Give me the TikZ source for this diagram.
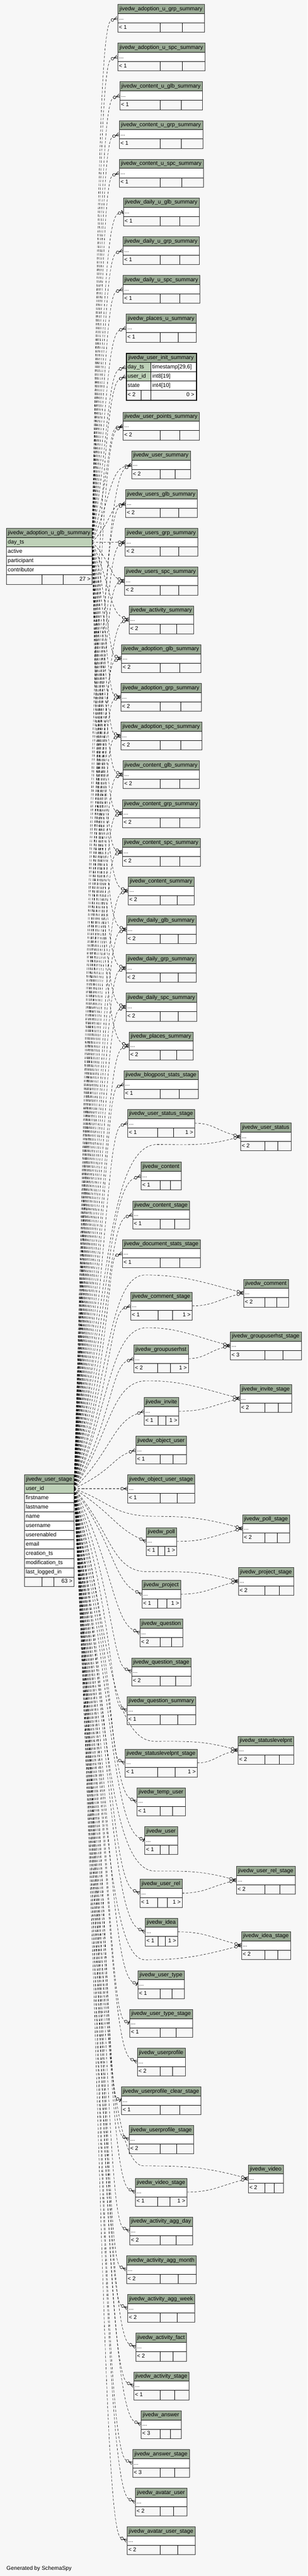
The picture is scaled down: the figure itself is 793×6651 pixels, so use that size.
\documentclass[tikz,border=0pt]{standalone}
\usepackage{fontspec}
\setmainfont{Liberation Sans}
\usetikzlibrary{calc}
\definecolor{bgc}{HTML}{F7F7F7}
\definecolor{hdrc}{HTML}{9BAB96}
\definecolor{keyc}{HTML}{BED1B8}
\pgfdeclarelayer{back}
\pgfdeclarelayer{conn}
\pgfsetlayers{back,conn,main}
\tikzset{
 txt/.style={inner sep=0pt, font=\fontsize{14.3}{17}\selectfont},
 cellline/.style={draw=black, line width=0.9pt},
 tblframe/.style={draw=black!80, line width=1.3pt, inner sep=0pt},
 relline/.style={line width=0.75pt, dash pattern=on 6pt off 4pt},
 mkl/.style={line width=0.9pt, solid},
}
% table: name, title, L, R (zoom x), T (px), div1, div2 (zoom x), foot left, foot right
\newcommand\xtb[9]{%
 \pgfmathsetmacro\tbL{#3/1.977}%
 \pgfmathsetmacro\tbR{#4/1.977}%
 \pgfmathsetmacro\tbA{#6/1.977}%
 \pgfmathsetmacro\tbB{#7/1.977}%
 \pgfmathsetmacro\tbT{-#5}%
 \pgfmathsetmacro\tbW{\tbR-\tbL}%
 \pgfmathsetmacro\tbM{(\tbL+\tbR)/2}%
 \fill[hdrc] (\tbL,\tbT) rectangle (\tbR,\tbT-24);%
 \fill[white] (\tbL,\tbT-24) rectangle (\tbR,\tbT-48);%
 \draw[cellline] (\tbL,\tbT-24) -- (\tbR,\tbT-24) (\tbL,\tbT-48) -- (\tbR,\tbT-48) (\tbA,\tbT-48) -- (\tbA,\tbT-72) (\tbB,\tbT-48) -- (\tbB,\tbT-72);%
 \node[tblframe, minimum width=\tbW pt, minimum height=72pt, anchor=north west] (#1) at (\tbL,\tbT) {};%
 \node[txt, anchor=base] (#1-title) at (\tbM,\tbT-16) {#2};%
 \node[txt, anchor=base west] (#1-dots) at (\tbL+3.5,\tbT-40) {...};%
 \node[txt, anchor=base west] (#1-fl) at (\tbL+3.5,\tbT-64) {#8};%
 \node[txt, anchor=base east] (#1-fr) at (\tbR-3.5,\tbT-64) {#9};%
 \coordinate (#1-in) at (\tbL,\tbT-36);%
 \coordinate (#1-out) at (\tbR,\tbT-36);%
}
% markers
\newcommand\xmkc[2]{\begin{scope}[shift={(#1)},rotate=#2-180]
 \draw[mkl] (-10,0) -- (0,4.5) (-10,0) -- (0,-4.5) (-10,0) -- (0,0);
 \draw[mkl,fill=bgc] (-14,0) circle (3.6);
 \end{scope}}
\newcommand\xmko[2]{\begin{scope}[shift={(#1)},rotate=#2-180]
 \draw[mkl] (-6.4,0) -- (0,0);
 \draw[mkl,line width=1.8pt] (-2.5,-5) -- (-2.5,5);
 \draw[mkl,fill=bgc] (-10,0) circle (3.6);
 \end{scope}}
% relation from parent point via trunk
\newcommand\xrel[7]{%
 \path (#2) ++(#5:#6) coordinate (ce);
 \draw[relline] let \p1=(#1), \p2=(ce), \n1={#3-#4*abs((\y2)-(\y1))}, \n2={abs((\x2)-\n1*1pt)} in
  (\p1) .. controls (\n1*1pt,{0.5*(\y1)+0.5*(\y2)}) and ($(\p2)+(#5:\n2)$) .. (\p2);
 #7{#2}{#5}}
\newcommand\xrelv[4]{%
 \path (#3) ++(#4:17.6) coordinate (ce);
 \draw[relline] let \p1=(#1), \p2=(#2), \p3=(ce), \n1={291-0.02*abs((\y2)-(\y1))}, \n2={0.4*((\x3)-(\x2))} in
  (\p1) .. controls (\n1*1pt,{0.5*(\y1)+0.5*(\y2)}) and (\n1*1pt,\y2) .. (\p2)
  .. controls ($(\p2)+(\n2,0)$) and ($(\p3)+(#4:\n2)$) .. (\p3);
 \xmkc{#3}{#4}}
\newcommand\xrelm[3]{%
 \path (#2) ++(#3:17.6) coordinate (ce);
 \draw[relline] let \p1=(#1), \p2=(ce), \n1={0.45*((\x2)-(\x1))} in
  (\p1) .. controls ($(\p1)+(\n1,0)$) and ($(\p2)+(#3:\n1)$) .. (\p2);
 \xmkc{#2}{#3}}
\newcommand\xAc[2]{\xrel{Aday}{#1}{287}{0.026}{#2}{17.6}{\xmkc}}
\newcommand\xAo[2]{\xrel{Aday}{#1}{287}{0.026}{#2}{13.6}{\xmko}}
\newcommand\xUc[2]{\xrel{Uid}{#1}{291}{0.02}{#2}{17.6}{\xmkc}}
\newcommand\xUdc[2]{\xrel{Uid}{#1}{292}{0.012}{#2}{17.6}{\xmkc}}
\newcommand\xUdo[2]{\xrel{Uid}{#1}{292}{0.012}{#2}{13.6}{\xmko}}
\begin{document}
\begin{tikzpicture}[x=1pt,y=1pt]
\useasboundingbox (0,0) rectangle (793,-6651);
\begin{pgfonlayer}{back}
\fill[bgc] (0,0) rectangle (793,-6651);
\end{pgfonlayer}

% ---------- left table: adoption_u_glb_summary ----------
\fill[hdrc] (16.2,-1363.8) rectangle (237.2,-1387.8);
\fill[keyc] (16.2,-1387.8) rectangle (237.2,-1411.8);
\fill[white] (16.2,-1411.8) rectangle (237.2,-1483.8);
\foreach \yy in {1387.8,1411.8,1435.8,1459.8,1483.8} {\draw[cellline] (16.2,-\yy) -- (237.2,-\yy);}
\draw[cellline] (107.7,-1483.8) -- (107.7,-1507.8) (162.4,-1483.8) -- (162.4,-1507.8);
\node[tblframe, minimum width=221pt, minimum height=144pt, anchor=north west] (A) at (16.2,-1363.8) {};
\node[txt, anchor=base] (A-title) at (126.7,-1379.8) {jivedw\_adoption\_u\_glb\_summary};
\node[txt, anchor=base west] (A-r1) at (20,-1403.8) {day\_ts};
\node[txt, anchor=base west] (A-r2) at (20,-1427.8) {active};
\node[txt, anchor=base west] (A-r3) at (20,-1451.8) {participant};
\node[txt, anchor=base west] (A-r4) at (20,-1475.8) {contributor};
\node[txt, anchor=base east] (A-fr) at (233.5,-1499.8) {27 >};
\coordinate (Aday) at (237.2,-1399.8);

% ---------- left table: user_stage ----------
\fill[hdrc] (62.7,-3807.6) rectangle (190.7,-3831.6);
\fill[keyc] (62.7,-3831.6) rectangle (190.7,-3855.6);
\fill[white] (62.7,-3855.6) rectangle (190.7,-4071.6);
\foreach \k in {1,...,11} {\draw[cellline] (62.7,{-3807.6-24*\k}) -- (190.7,{-3807.6-24*\k});}
\draw[cellline] (107.7,-4071.6) -- (107.7,-4095.6) (138.6,-4071.6) -- (138.6,-4095.6);
\node[tblframe, minimum width=128pt, minimum height=288pt, anchor=north west] (U) at (62.7,-3807.6) {};
\node[txt, anchor=base] (U-title) at (126.7,-3823.6) {jivedw\_user\_stage};
\node[txt, anchor=base west] (U-r0) at (66.5,-3847.6) {user\_id};
\foreach \nm [count=\i] in {firstname,lastname,name,username,userenabled,email,creation\_ts,modification\_ts,last\_logged\_in}
 {\node[txt, anchor=base west] (U-r\i) at (66.5,{-3807.6-24*(\i+1)-16}) {\nm};}
\node[txt, anchor=base east] (U-fr) at (187,-4087.6) {63 >};
\coordinate (Uid) at (190.7,-3843.6);

% ---------- user_init_summary (focused) ----------
\fill[hdrc] (325.2,-911.6) rectangle (505.3,-935.6);
\fill[keyc] (325.2,-935.6) rectangle (388.5,-983.6);
\fill[white] (388.5,-935.6) rectangle (505.3,-983.6);
\fill[white] (325.2,-983.6) rectangle (505.3,-1007.6);
\foreach \yy in {935.6,959.6,983.6,1007.6} {\draw[cellline] (325.2,-\yy) -- (505.3,-\yy);}
\draw[cellline] (388.5,-935.6) -- (388.5,-1007.6) (363.2,-1007.6) -- (363.2,-1031.6) (388.5,-1007.6) -- (388.5,-1031.6);
\node[draw=black, line width=2.6pt, inner sep=0pt, minimum width=181pt, minimum height=121pt, anchor=north west] (I) at (324.7,-911.1) {};
\node[txt, anchor=base] (I-title) at (415.2,-927.6) {jivedw\_user\_init\_summary};
\node[txt, anchor=base west] (I-a) at (329,-951.6) {day\_ts};
\node[txt, anchor=base west] (I-at) at (392.5,-951.6) {timestamp[29,6]};
\node[txt, anchor=base west] (I-b) at (329,-975.6) {user\_id};
\node[txt, anchor=base west] (I-bt) at (392.5,-975.6) {int8[19]};
\node[txt, anchor=base west] (I-c) at (329,-999.6) {state};
\node[txt, anchor=base west] (I-ct) at (392.5,-999.6) {int4[10]};
\node[txt, anchor=base west] (I-fl) at (329,-1023.6) {< 2};
\node[txt, anchor=base east] (I-fr) at (501.3,-1023.6) {0 >};
\coordinate (Iday) at (323.9,-947.6);
\coordinate (Iuid) at (323.9,-971.6);

% ---------- middle column ----------
\xtb{t1}{jivedw\_adoption\_u\_grp\_summary}{599}{1042}{10.7}{816}{929}{< 1}{}
\xtb{t2}{jivedw\_adoption\_u\_spc\_summary}{599}{1045}{110.7}{816}{929}{< 1}{}
\xtb{t3}{jivedw\_content\_u\_glb\_summary}{610}{1031}{210.7}{816}{923}{< 1}{}
\xtb{t4}{jivedw\_content\_u\_grp\_summary}{607}{1034}{310.7}{816}{923}{< 1}{}
\xtb{t5}{jivedw\_content\_u\_spc\_summary}{607}{1037}{410.7}{816}{926}{< 1}{}
\xtb{t6}{jivedw\_daily\_u\_glb\_summary}{628}{1015}{510.7}{816}{915}{< 1}{}
\xtb{t7}{jivedw\_daily\_u\_grp\_summary}{626}{1015}{610.7}{816}{915}{< 1}{}
\xtb{t8}{jivedw\_daily\_u\_spc\_summary}{626}{1018}{710.7}{816}{915}{< 1}{}
\xtb{t9}{jivedw\_places\_u\_summary}{642}{1000}{810.7}{816}{908}{< 1}{}
\xtb{t11}{jivedw\_user\_points\_summary}{626}{1015}{1063.8}{816}{915}{< 2}{}
\xtb{t12}{jivedw\_user\_summary}{670}{970}{1163.8}{816}{892}{< 2}{}
\xtb{t13}{jivedw\_users\_glb\_summary}{639}{1004}{1263.8}{816}{911}{< 2}{}
\xtb{t14}{jivedw\_users\_grp\_summary}{637}{1007}{1363.8}{816}{911}{< 2}{}
\xtb{t15}{jivedw\_users\_spc\_summary}{634}{1007}{1463.8}{816}{911}{< 2}{}
\xtb{t16}{jivedw\_activity\_summary}{657}{987}{1563.8}{816}{900}{< 2}{}
\xtb{t17}{jivedw\_adoption\_glb\_summary}{618}{1023}{1663.8}{816}{917}{< 2}{}
\xtb{t18}{jivedw\_adoption\_grp\_summary}{615}{1026}{1763.8}{816}{920}{< 2}{}
\xtb{t19}{jivedw\_adoption\_spc\_summary}{615}{1028}{1863.8}{816}{920}{< 2}{}
\xtb{t20}{jivedw\_content\_glb\_summary}{626}{1015}{1963.8}{816}{915}{< 2}{}
\xtb{t21}{jivedw\_content\_grp\_summary}{623}{1018}{2063.8}{816}{915}{< 2}{}
\xtb{t22}{jivedw\_content\_spc\_summary}{623}{1021}{2163.8}{816}{917}{< 2}{}
\xtb{t23}{jivedw\_content\_summary}{652}{990}{2263.8}{816}{903}{< 2}{}
\xtb{t24}{jivedw\_daily\_glb\_summary}{644}{1000}{2363.8}{816}{908}{< 2}{}
\xtb{t25}{jivedw\_daily\_grp\_summary}{642}{1000}{2463.8}{816}{908}{< 2}{}
\xtb{t26}{jivedw\_daily\_spc\_summary}{642}{1002}{2563.8}{816}{908}{< 2}{}
\xtb{t27}{jivedw\_places\_summary}{657}{984}{2663.8}{816}{900}{< 2}{}
\xtb{t28}{jivedw\_blogpost\_stats\_stage}{631}{1010}{2763.8}{816}{913}{< 1}{}
\xtb{t29}{jivedw\_user\_status\_stage}{650}{992}{2863.8}{802}{884}{< 1}{1 >}
\xtb{t30}{jivedw\_content}{718}{923}{3000}{816}{868}{< 1}{}
\xtb{t31}{jivedw\_content\_stage}{675}{966}{3100}{816}{889}{< 1}{}
\xtb{t32}{jivedw\_document\_stats\_stage}{623}{1021}{3200}{816}{917}{< 1}{}
\xtb{t33}{jivedw\_comment\_stage}{665}{979}{3335.7}{805}{879}{< 1}{1 >}
\xtb{t34}{jivedw\_groupuserhst}{681}{960}{3471.9}{802}{868}{< 2}{1 >}
\xtb{t35}{jivedw\_invite}{734}{911}{3607.6}{805}{845}{< 1}{1 >}
\xtb{t36}{jivedw\_object\_user}{691}{950}{3707.6}{816}{881}{< 1}{}
\xtb{t37}{jivedw\_object\_user\_stage}{650}{992}{3807.6}{816}{903}{< 1}{}
\xtb{t38}{jivedw\_poll}{744}{900}{3943.75}{805}{839}{< 1}{1 >}
\xtb{t39}{jivedw\_project}{723}{920}{4079.9}{803}{850}{< 1}{1 >}
\xtb{t40}{jivedw\_question}{712}{931}{4179.9}{816}{873}{< 2}{}
\xtb{t41}{jivedw\_question\_stage}{670}{974}{4279.9}{816}{895}{< 2}{}
\xtb{t42}{jivedw\_question\_summary}{647}{997}{4379.9}{816}{905}{< 1}{}
\xtb{t43}{jivedw\_statuslevelpnt\_stage}{636}{1005}{4515.6}{802}{892}{< 1}{1 >}
\xtb{t44}{jivedw\_temp\_user}{697}{944}{4615.6}{816}{879}{< 1}{}
\xtb{t45}{jivedw\_user}{737}{905}{4715.6}{816}{860}{< 1}{}
\xtb{t46}{jivedw\_user\_rel}{712}{928}{4851.8}{802}{852}{< 1}{1 >}
\xtb{t47}{jivedw\_idea}{739}{905}{4951.8}{805}{843}{< 1}{1 >}
\xtb{t48}{jivedw\_user\_type}{702}{939}{5087.5}{816}{876}{< 1}{}
\xtb{t49}{jivedw\_user\_type\_stage}{660}{982}{5187.5}{816}{898}{< 1}{}
\xtb{t50}{jivedw\_userprofile}{699}{944}{5287.5}{816}{879}{< 2}{}
\xtb{t51}{jivedw\_userprofile\_clear\_stage}{618}{1023}{5387.5}{816}{917}{< 1}{}
\xtb{t52}{jivedw\_userprofile\_stage}{657}{987}{5487.5}{816}{900}{< 2}{}
\xtb{t53}{jivedw\_video\_stage}{689}{952}{5623.7}{802}{866}{< 1}{1 >}
\xtb{t54}{jivedw\_activity\_agg\_day}{660}{982}{5723.7}{816}{898}{< 2}{}
\xtb{t55}{jivedw\_activity\_agg\_month}{644}{1000}{5823.7}{816}{908}{< 2}{}
\xtb{t56}{jivedw\_activity\_agg\_week}{650}{992}{5923.7}{816}{903}{< 2}{}
\xtb{t57}{jivedw\_activity\_fact}{691}{950}{6023.7}{816}{881}{< 2}{}
\xtb{t58}{jivedw\_activity\_stage}{681}{963}{6123.7}{816}{889}{< 1}{}
\xtb{t59}{jivedw\_answer}{718}{923}{6223.7}{816}{868}{< 3}{}
\xtb{t60}{jivedw\_answer\_stage}{675}{966}{6323.7}{816}{889}{< 3}{}
\xtb{t61}{jivedw\_avatar\_user}{689}{952}{6423.7}{816}{884}{< 2}{}
\xtb{t62}{jivedw\_avatar\_user\_stage}{647}{995}{6523.7}{816}{905}{< 2}{}

% ---------- right column ----------
\xtb{r1}{jivedw\_user\_status}{1225}{1484}{2898.7}{1349}{1415}{< 2}{}
\xtb{r2}{jivedw\_comment}{1241}{1470}{3302.2}{1349}{1410}{< 2}{}
\xtb{r3}{jivedw\_groupuserhst\_stage}{1173}{1536}{3438.4}{1349}{1441}{< 3}{}
\xtb{r4}{jivedw\_invite\_stage}{1222}{1487}{3574.6}{1349}{1418}{< 2}{}
\xtb{r5}{jivedw\_poll\_stage}{1236}{1475}{3910.3}{1349}{1413}{< 2}{}
\xtb{r6}{jivedw\_project\_stage}{1214}{1497}{4046.4}{1349}{1423}{< 2}{}
\xtb{r7}{jivedw\_statuslevelpnt}{1212}{1497}{4482.6}{1349}{1423}{< 2}{}
\xtb{r8}{jivedw\_user\_rel\_stage}{1204}{1505}{4818.3}{1349}{1426}{< 2}{}
\xtb{r9}{jivedw\_idea\_stage}{1230}{1481}{4986.6}{1349}{1415}{< 2}{}
\xtb{r10}{jivedw\_video}{1264}{1444}{5588.8}{1349}{1397}{< 2}{}

\node[txt, anchor=base west] (gen) at (16.7,-6636) {Generated by SchemaSpy};

% via points
\coordinate (v1) at (405,-2955);
\coordinate (v2) at (374,-3292);
\coordinate (v3) at (379,-3428);
\coordinate (v4) at (379,-3565);
\coordinate (v5) at (405,-3915);
\coordinate (v6) at (380,-4058);
\coordinate (v7) at (400,-4496);
\coordinate (v8) at (400,-4831);
\coordinate (v9) at (374,-5060);
\coordinate (v10) at (370,-5592);

% ---------- connectors ----------
\begin{pgfonlayer}{conn}
\foreach \k in {1,2,3,4,5,7,8,9} {\xAc{t\k-in}{200}}
\xAo{t6-in}{200}
\xAc{Iday}{200}
\foreach \k in {11,12,13} {\xAc{t\k-in}{195}}
\xAc{t14-in}{180}
\foreach \k in {15,...,27} {\xAc{t\k-in}{160}}
\xUc{Iuid}{205}
\foreach \k in {11,...,14} {\xUc{t\k-in}{210}}
\foreach \k in {15,...,36} {\xUc{t\k-in}{200}}
\xUc{t37-in}{180}
\foreach \k in {38,39,40,41,42,43,44,46,47,50,52,53,54,55,56,57,58,59,60,61,62} {\xUdc{t\k-in}{155}}
\foreach \k in {45,48,49,51} {\xUdo{t\k-in}{155}}
\xrelv{Uid}{v1}{r1-in}{195}
\xrelv{Uid}{v2}{r2-in}{165}
\xrelv{Uid}{v3}{r3-in}{165}
\xrelv{Uid}{v4}{r4-in}{165}
\xrelv{Uid}{v5}{r5-in}{165}
\xrelv{Uid}{v6}{r6-in}{165}
\xrelv{Uid}{v7}{r7-in}{165}
\xrelv{Uid}{v8}{r8-in}{165}
\xrelv{Uid}{v9}{r9-in}{195}
\xrelv{Uid}{v10}{r10-in}{165}
\xrelm{t29-out}{r1-in}{165}
\xrelm{t33-out}{r2-in}{195}
\xrelm{t34-out}{r3-in}{195}
\xrelm{t35-out}{r4-in}{195}
\xrelm{t38-out}{r5-in}{195}
\xrelm{t39-out}{r6-in}{195}
\xrelm{t43-out}{r7-in}{195}
\xrelm{t46-out}{r8-in}{195}
\xrelm{t47-out}{r9-in}{165}
\xrelm{t53-out}{r10-in}{195}
\end{pgfonlayer}
\end{tikzpicture}
\end{document}
